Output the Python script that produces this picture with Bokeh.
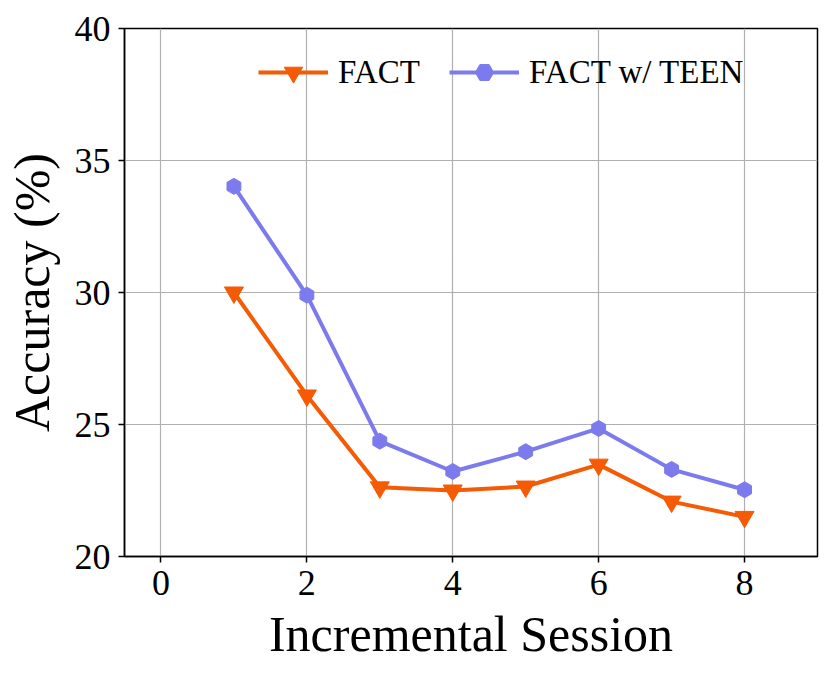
import math
from bokeh.plotting import figure
from bokeh.models import Range1d, FixedTicker, Legend, LegendItem
from bokeh.embed import file_html
from bokeh.resources import INLINE

sessions = [1, 2, 3, 4, 5, 6, 7, 8]
fact = [30.0, 26.1, 22.62, 22.5, 22.65, 23.48, 22.08, 21.5]
fact_teen = [34.02, 29.9, 24.37, 23.22, 23.97, 24.85, 23.3, 22.53]
x_ticks = [0, 2, 4, 6, 8]
y_ticks = [20, 25, 30, 35, 40]

FONT = "Liberation Serif"
ORANGE = "#F55A05"
PURPLE = "#7B7BEE"

p = figure(frame_width=693, frame_height=528, output_backend="svg", toolbar_location=None,
           x_range=Range1d(-0.5, 9.0), y_range=Range1d(20, 40),
           min_border_left=114, min_border_right=7, min_border_top=28, min_border_bottom=103)
p.background_fill_color = "white"
p.border_fill_color = "white"
p.outline_line_color = "black"
p.outline_line_width = 1.5

for ax in (p.xaxis[0], p.yaxis[0]):
    ax.axis_line_color = "black"
    ax.axis_line_width = 1.5
    ax.major_tick_line_color = "black"
    ax.major_tick_line_width = 1.5
    ax.major_tick_out = 6
    ax.major_tick_in = 0
    ax.minor_tick_line_color = None
    ax.major_label_text_font = FONT
    ax.major_label_text_font_size = "36px"
    ax.major_label_text_color = "black"
    ax.axis_label_text_font = FONT
    ax.axis_label_text_font_size = "50px"
    ax.axis_label_text_font_style = "normal"
    ax.axis_label_text_color = "black"
    ax.major_label_standoff = 8

p.xaxis[0].ticker = FixedTicker(ticks=x_ticks)
p.yaxis[0].ticker = FixedTicker(ticks=y_ticks)
p.xaxis[0].axis_label = "Incremental Session"
p.yaxis[0].axis_label = "Accuracy (%)"
p.xaxis[0].axis_label_standoff = 8
p.yaxis[0].axis_label_standoff = 12

p.xgrid.ticker = FixedTicker(ticks=x_ticks)
p.ygrid.ticker = FixedTicker(ticks=y_ticks)
for g in (p.xgrid[0], p.ygrid[0]):
    g.grid_line_color = "#b0b0b0"
    g.grid_line_width = 1.2

l1 = p.line(sessions, fact, line_color=ORANGE, line_width=4)
m1 = p.scatter(sessions, fact, marker="inverted_triangle", size=19, fill_color=ORANGE, line_color=ORANGE)
l2 = p.line(sessions, fact_teen, line_color=PURPLE, line_width=4)
m2 = p.scatter(sessions, fact_teen, marker="hex", size=16, angle=math.pi / 2,
               fill_color=PURPLE, line_color=PURPLE)

legend = Legend(items=[LegendItem(label="FACT", renderers=[l1, m1]),
                       LegendItem(label="FACT w/ TEEN", renderers=[l2, m2])],
                orientation="horizontal", location=(134, 461))
legend.background_fill_alpha = 0
legend.border_line_alpha = 0
legend.padding = 0
legend.margin = 0
legend.spacing = 29
legend.glyph_width = 70
legend.glyph_height = 46
legend.label_standoff = 10
legend.label_text_font = FONT
legend.label_text_font_size = "33px"
legend.label_text_color = "black"
p.add_layout(legend)

open("out.html", "w").write(file_html(p, INLINE))
